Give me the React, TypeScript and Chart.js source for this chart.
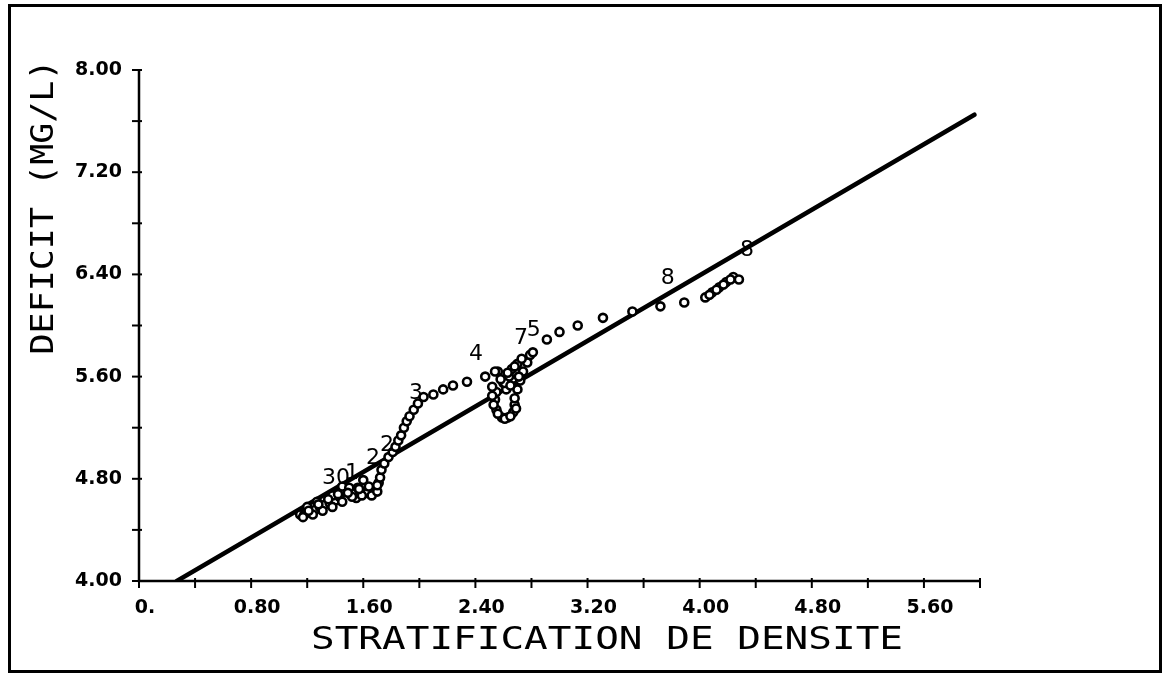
import React, { useEffect, useRef } from 'react';
import { Chart, registerables } from 'chart.js';
Chart.register(...registerables);

// Observed points (stratification de densite, deficit mg/L)
const xValues = [
  1.15, 1.18, 1.22, 1.26, 1.29, 1.33, 1.36, 1.40, 1.43, 1.47, 1.50, 1.54, 1.58, 1.61, 1.65, 1.68,
  1.71, 1.72, 1.73, 1.75, 1.78, 1.81, 1.83, 1.85, 1.87, 1.89, 1.91, 1.93, 1.96, 1.99, 2.03, 2.10,
  2.17, 2.24, 2.34, 2.47, 2.56,
  2.55, 2.54, 2.55, 2.59, 2.63, 2.67, 2.68, 2.68, 2.70, 2.72, 2.74, 2.77, 2.79, 2.81,
  2.91, 3.00, 3.13, 3.31, 3.52, 3.72, 3.89, 4.04, 4.09, 4.14, 4.19, 4.24, 4.28,
  1.20, 1.27, 1.38, 1.45, 1.50, 1.55, 1.56, 1.60, 1.63,
  2.60, 2.62, 2.64, 2.66, 2.70, 2.61, 2.54,
  1.17, 1.24, 1.31, 1.38, 1.45, 1.52, 1.59, 1.66, 1.70,
  1.21, 1.28, 1.35, 1.42, 1.49, 1.57, 1.64, 1.70,
  2.52, 2.52, 2.53, 2.56, 2.61, 2.65, 2.69,
  2.58, 2.63, 2.68, 2.73, 2.65, 2.71,
  4.07, 4.12, 4.17, 4.22,
];
const yValues = [
  4.52, 4.52, 4.54, 4.56, 4.58, 4.60, 4.61, 4.63, 4.66, 4.70, 4.72, 4.71, 4.70, 4.70, 4.71, 4.73,
  4.77, 4.81, 4.87, 4.92, 4.97, 5.01, 5.05, 5.10, 5.14, 5.20, 5.25, 5.29, 5.34, 5.39, 5.44, 5.46,
  5.50, 5.53, 5.56, 5.60, 5.64,
  5.48, 5.42, 5.34, 5.28, 5.28, 5.32, 5.38, 5.43, 5.50, 5.57, 5.64, 5.71, 5.77, 5.79,
  5.89, 5.95, 6.00, 6.06, 6.11, 6.15, 6.18, 6.22, 6.26, 6.30, 6.34, 6.38, 6.36,
  4.58, 4.62, 4.67, 4.74, 4.73, 4.65, 4.73, 4.79, 4.69,
  5.55, 5.50, 5.60, 5.66, 5.70, 5.55, 5.64,
  4.50, 4.52, 4.55, 4.58, 4.62, 4.66, 4.67, 4.67, 4.70,
  4.55, 4.60, 4.64, 4.68, 4.69, 4.72, 4.74, 4.75,
  5.52, 5.45, 5.38, 5.31, 5.27, 5.29, 5.35,
  5.58, 5.63, 5.68, 5.74, 5.53, 5.60,
  6.24, 6.28, 6.32, 6.36,
];

// Fitted regression line
const fitLineX = [0.27, 5.96];
const fitLineY = [4.0, 7.65];

// Point annotations
const markerTexts = ['30', '1', '2', '2', '3', '4', '7', '5', '8', '8'];
const markerX = [1.405, 1.519, 1.669, 1.769, 1.976, 2.404, 2.725, 2.817, 3.773, 4.337];
const markerY = [4.806, 4.845, 4.963, 5.065, 5.472, 5.777, 5.902, 5.965, 6.372, 6.591];

// Axis tick labels
const xTickLabels = ['0.', '0.80', '1.60', '2.40', '3.20', '4.00', '4.80', '5.60'];
const yTickLabels = ['4.00', '4.80', '5.60', '6.40', '7.20', '8.00'];

const xTitle = 'STRATIFICATION DE DENSITE';
const yTitle = 'DEFICIT (MG/L)';

const decorPlugin = {
  id: 'decor',
  afterDraw(chart: any) {
    const ctx = chart.ctx as CanvasRenderingContext2D;
    const xs = chart.scales.x;
    const ys = chart.scales.y;
    const { left, right, top, bottom } = chart.chartArea;
    ctx.save();
    ctx.strokeStyle = '#000';
    ctx.fillStyle = '#000';
    ctx.lineCap = 'butt';
    // axes
    ctx.lineWidth = 2.5;
    ctx.beginPath();
    ctx.moveTo(left, top);
    ctx.lineTo(left, bottom);
    ctx.lineTo(right, bottom);
    ctx.stroke();
    // tick marks
    ctx.lineWidth = 2;
    xs.ticks.forEach((t: any) => {
      const px = xs.getPixelForValue(t.value);
      ctx.beginPath();
      ctx.moveTo(px, bottom - 3);
      ctx.lineTo(px, bottom + 7);
      ctx.stroke();
    });
    ys.ticks.forEach((t: any) => {
      const py = ys.getPixelForValue(t.value);
      ctx.beginPath();
      ctx.moveTo(left - 7, py);
      ctx.lineTo(left + 3, py);
      ctx.stroke();
    });
    // annotations
    ctx.font = '22px "DejaVu Sans"';
    ctx.textAlign = 'center';
    ctx.textBaseline = 'middle';
    markerTexts.forEach((s, i) => {
      ctx.fillText(s, xs.getPixelForValue(markerX[i]), ys.getPixelForValue(markerY[i]));
    });
    // x title
    ctx.font = '32px "DejaVu Sans Mono"';
    ctx.textBaseline = 'middle';
    ctx.textAlign = 'center';
    {
      const w = ctx.measureText(xTitle).width;
      const target = 592;
      ctx.save();
      ctx.translate(607, 641);
      ctx.scale(target / w, 1);
      ctx.fillText(xTitle, 0, 0);
      ctx.restore();
    }
    // y title
    {
      const w = ctx.measureText(yTitle).width;
      const target = 295;
      ctx.save();
      ctx.translate(45, 207);
      ctx.rotate(-Math.PI / 2);
      ctx.scale(target / w, 1);
      ctx.fillText(yTitle, 0, 0);
      ctx.restore();
    }
    // frame
    ctx.lineWidth = 3;
    ctx.strokeRect(9.5, 5.5, 1151, 666);
    ctx.restore();
  },
};

export default function App() {
  const ref = useRef<HTMLCanvasElement | null>(null);
  useEffect(() => {
    if (!ref.current) return;
    const points = xValues.map((x, i) => ({ x, y: yValues[i] }));
    const linePts = fitLineX.map((x, i) => ({ x, y: fitLineY[i] }));
    const chart = new Chart(ref.current, {
      type: 'scatter',
      data: {
        datasets: [
          {
            data: points,
            pointRadius: 4,
            pointBorderWidth: 2.6,
            pointBackgroundColor: '#fff',
            pointBorderColor: '#000',
            showLine: false,
            order: 1,
          },
          {
            data: linePts,
            showLine: true,
            borderColor: '#000',
            borderWidth: 4.5,
            pointRadius: 0,
            borderCapStyle: 'round',
            order: 2,
          } as any,
        ],
      },
      options: {
        responsive: false,
        animation: false,
        devicePixelRatio: 1,
        events: [],
        layout: { padding: { top: 70, right: 184, left: 0, bottom: 0 } },
        plugins: { legend: { display: false }, tooltip: { enabled: false } },
        scales: {
          x: {
            type: 'linear',
            min: 0,
            max: 6,
            afterFit: (s: any) => { s.height = 95; },
            grid: { display: false, drawTicks: false },
            border: { display: false },
            ticks: {
              stepSize: 0.4,
              autoSkip: false,
              maxRotation: 0,
              padding: 16,
              labelOffset: 6,
              color: '#000',
              font: { family: '"DejaVu Sans"', size: 19, weight: 'bold' },
              callback: (v: any) => {
                const k = Math.round(Number(v) * 10);
                if (k % 8 !== 0) return '';
                return xTickLabels[k / 8] ?? '';
              },
            },
          },
          y: {
            type: 'linear',
            min: 4,
            max: 8,
            afterFit: (s: any) => { s.width = 139; },
            grid: { display: false, drawTicks: false },
            border: { display: false },
            ticks: {
              stepSize: 0.4,
              autoSkip: false,
              padding: 17,
              color: '#000',
              font: { family: '"DejaVu Sans"', size: 19, weight: 'bold' },
              callback: (v: any) => {
                const k = Math.round((Number(v) - 4) * 10);
                if (k % 8 !== 0) return '';
                return yTickLabels[k / 8] ?? '';
              },
            },
          },
        },
      },
      plugins: [decorPlugin],
    } as any);
    return () => chart.destroy();
  }, []);
  return (
    <div style={{ position: 'absolute', left: 0, top: 0, width: 1164, height: 676, background: '#fff' }}>
      <canvas ref={ref} width={1164} height={676} style={{ display: 'block' }} />
    </div>
  );
}
